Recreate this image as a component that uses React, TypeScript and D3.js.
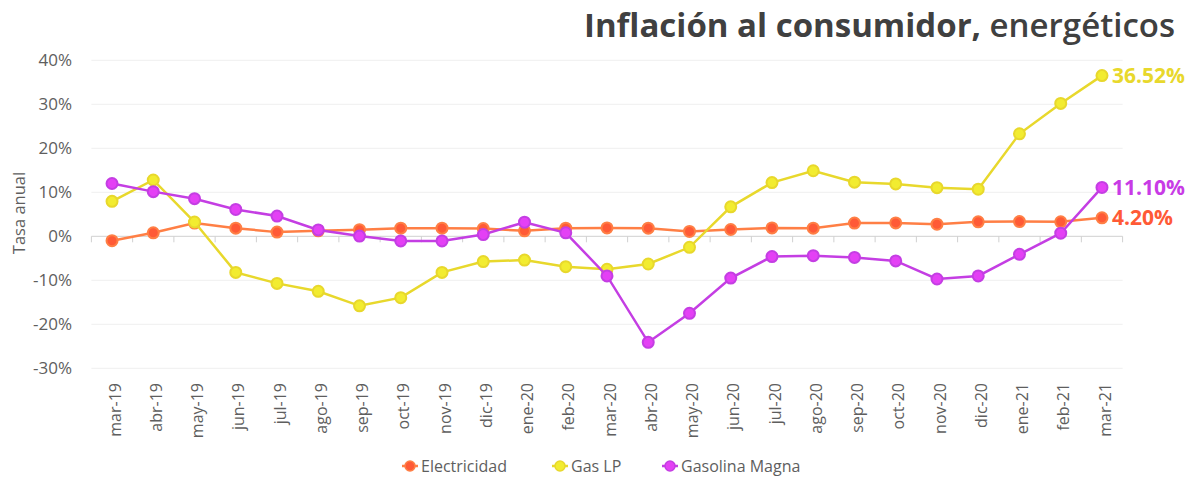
import React from "react";
import * as d3 from "d3";

const categories = ["mar-19","abr-19","may-19","jun-19","jul-19","ago-19","sep-19","oct-19","nov-19","dic-19","ene-20","feb-20","mar-20","abr-20","may-20","jun-20","jul-20","ago-20","sep-20","oct-20","nov-20","dic-20","ene-21","feb-21","mar-21"];
const electricidad = [-1.0,0.8,3.0,1.85,0.95,1.25,1.5,1.85,1.85,1.75,1.25,1.85,1.9,1.85,1.1,1.55,1.9,1.85,3.0,3.05,2.75,3.3,3.35,3.3,4.2];
const gasLP = [7.95,12.8,3.25,-8.2,-10.7,-12.5,-15.8,-13.95,-8.2,-5.75,-5.4,-6.9,-7.5,-6.3,-2.5,6.7,12.2,14.9,12.3,11.9,11.05,10.7,23.3,30.2,36.52];
const magna = [12.0,10.15,8.55,6.1,4.6,1.45,0.05,-1.05,-1.05,0.4,3.2,0.8,-9.0,-24.1,-17.5,-9.5,-4.6,-4.4,-4.8,-5.6,-9.7,-9.0,-4.1,0.7,11.1];
const yTicks = [40,30,20,10,0,-10,-20,-30];

const seriesList = [
  { name: "Electricidad", values: electricidad, line: "#ff7f45", fill: "#ff5a36", stroke: "#ff7f45", label: "#ff5a36" },
  { name: "Gas LP", values: gasLP, line: "#e8d82c", fill: "#f2ec30", stroke: "#e8d82c", label: "#e8d82c" },
  { name: "Gasolina Magna", values: magna, line: "#c43ee3", fill: "#e440f5", stroke: "#c43ee3", label: "#c83be6" },
];

const W = 1195, H = 478;
const font = "'Open Sans', sans-serif";

export default function App() {
  const x = d3.scaleBand<string>().domain(categories).range([91.4, 1122.6]).padding(0);
  const y = d3.scaleLinear().domain([-30, 40]).range([368.3, 60.3]);
  const cx = (c: string) => (x(c) as number) + x.bandwidth() / 2;
  const line = d3.line<number>().x((_, i) => cx(categories[i])).y((v) => y(v));
  const x0 = 91.4, x1 = 1122.6;
  const boundaries = categories.map((c) => x(c) as number).concat([x1]);
  const legendItems = [
    { s: seriesList[0], x: 410 },
    { s: seriesList[1], x: 560 },
    { s: seriesList[2], x: 670 },
  ];
  return (
    <div style={{ position: "absolute", left: 0, top: 0 }}>
      <svg width={W} height={H} style={{ display: "block", fontFamily: font }}>
        <rect width={W} height={H} fill="#fff" />
        <text x={1175} y={37} textAnchor="end" fill="#404040" fontSize={33}>
          <tspan fontWeight={700}>Inflación al consumidor, </tspan>
          <tspan fontWeight={600}>energéticos</tspan>
        </text>
        {yTicks.map((t) => (
          <g key={t}>
            {t !== 0 && <line x1={x0} x2={x1} y1={y(t)} y2={y(t)} stroke="#efefef" strokeWidth={1} />}
            <text x={72} y={y(t)} dy="0.35em" textAnchor="end" fontSize={17} fill="#5e5e5e">{t}%</text>
          </g>
        ))}
        <line x1={x0} x2={x1} y1={y(0)} y2={y(0)} stroke="#d0d0d0" strokeWidth={1} />
        {boundaries.map((b, i) => (
          <line key={i} x1={b} x2={b} y1={y(0)} y2={y(0) + 6} stroke="#d0d0d0" strokeWidth={1} />
        ))}
        <text transform={`translate(25,213) rotate(-90)`} textAnchor="middle" fontSize={16.5} fill="#5e5e5e">Tasa anual</text>
        {categories.map((c) => (
          <text key={c} transform={`translate(${cx(c) + 3},383) rotate(-90)`} textAnchor="end" dy="0.35em" fontSize={16} fill="#5e5e5e">{c}</text>
        ))}
        {seriesList.map((s) => (
          <g key={s.name}>
            <path d={line(s.values) || ""} fill="none" stroke={s.line} strokeWidth={2.5} />
            {s.values.map((v, i) => (
              <circle key={i} cx={cx(categories[i])} cy={y(v)} r={5.5} fill={s.fill} stroke={s.stroke} strokeWidth={2} />
            ))}
          </g>
        ))}
        {seriesList.map((s) => {
          const v = s.values[s.values.length - 1];
          return (
            <text key={s.name} x={cx(categories[categories.length - 1]) + 10} y={y(v)} dy="0.35em" fontSize={21} fontWeight={700} fill={s.label}>
              {d3.format(".2f")(v)}%
            </text>
          );
        })}
        {legendItems.map(({ s, x: lx }) => (
          <g key={s.name}>
            <line x1={lx - 8} x2={lx + 8} y1={466} y2={466} stroke={s.line} strokeWidth={2.5} />
            <circle cx={lx} cy={466} r={5} fill={s.fill} stroke={s.stroke} strokeWidth={1.5} />
            <text x={lx + 11} y={466} dy="0.35em" fontSize={16} fill="#5e5e5e">{s.name}</text>
          </g>
        ))}
      </svg>
    </div>
  );
}
